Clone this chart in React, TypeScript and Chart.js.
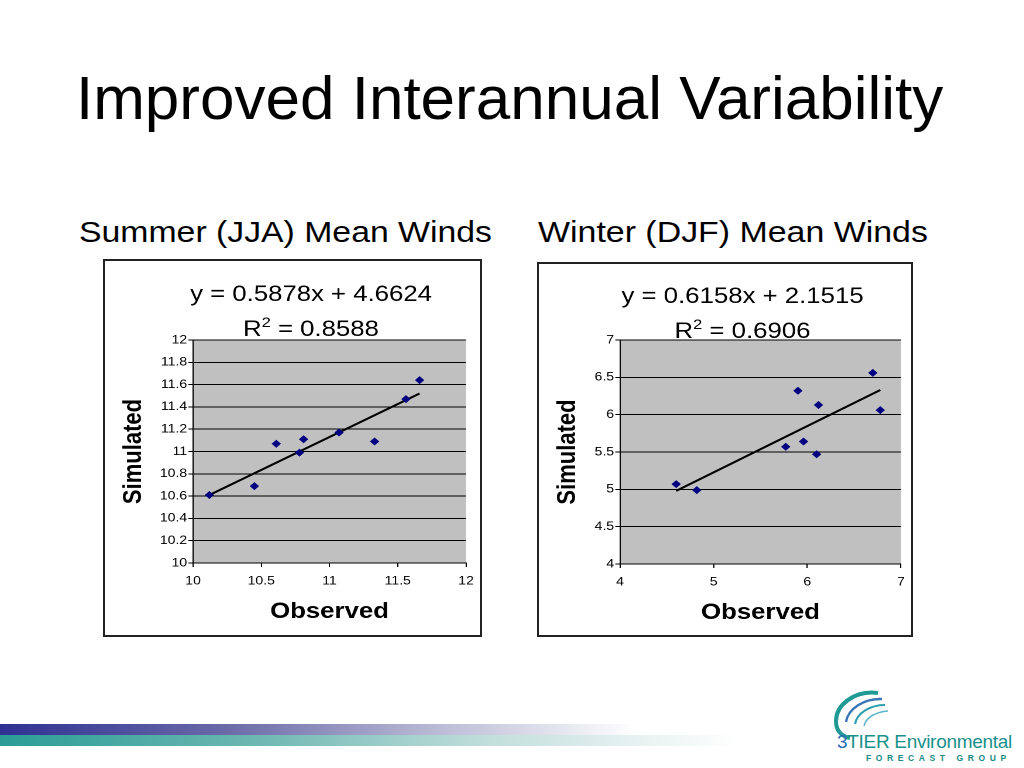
import React, { useEffect, useRef } from "react";
import { Chart, registerables } from "chart.js";

Chart.register(...registerables);

// ---------- data ----------
const summerObserved = [10.12, 10.45, 10.61, 10.78, 10.81, 11.07, 11.33, 11.56, 11.66];
const summerSimulated = [10.61, 10.69, 11.07, 10.99, 11.11, 11.17, 11.09, 11.47, 11.64];
const summerTrendX = [10.12, 11.66];
const summerTrendY = [10.61, 11.52];
const summerXTicks = [10, 10.5, 11, 11.5, 12];
const summerYTicks = [10, 10.2, 10.4, 10.6, 10.8, 11, 11.2, 11.4, 11.6, 11.8, 12];
const summerEquation = "y = 0.5878x + 4.6624";
const summerR2 = "0.8588";

const winterObserved = [4.6, 4.82, 5.77, 5.9, 5.96, 6.1, 6.12, 6.7, 6.78];
const winterSimulated = [5.07, 4.99, 5.57, 6.32, 5.64, 5.47, 6.13, 6.56, 6.06];
const winterTrendX = [4.6, 6.78];
const winterTrendY = [4.98, 6.33];
const winterXTicks = [4, 5, 6, 7];
const winterYTicks = [4, 4.5, 5, 5.5, 6, 6.5, 7];
const winterEquation = "y = 0.6158x + 2.1515";
const winterR2 = "0.6906";

const pageTitle = "Improved Interannual Variability";
const summerTitle = "Summer (JJA) Mean Winds";
const winterTitle = "Winter (DJF) Mean Winds";
const xAxisTitle = "Observed";
const yAxisTitle = "Simulated";

const FONT = '"Liberation Sans", Arial, Helvetica, sans-serif';
const STRETCH = 1.17;

type Geo = {
  left: number; top: number; width: number; height: number;
  areaL: number; areaT: number; areaR: number; areaB: number;
  yTitleX: number; xTitleFromBottom: number;
  eqX: number; eqY: number; r2Y: number;
};

function ScatterPanel(props: {
  geo: Geo; xs: number[]; ys: number[]; tx: number[]; ty: number[];
  xTicks: number[]; yTicks: number[]; eq: string; r2: string;
}) {
  const { geo, xs, ys, tx, ty, xTicks, yTicks, eq, r2 } = props;
  const ref = useRef<HTMLCanvasElement | null>(null);
  const w = Math.round(geo.width / STRETCH);
  const S = geo.width / w;

  useEffect(() => {
    if (!ref.current) return;
    const bg = {
      id: "plotBg",
      beforeDraw(chart: any) {
        const { ctx, chartArea } = chart;
        ctx.save();
        ctx.fillStyle = "#c0c0c0";
        ctx.fillRect(chartArea.left, chartArea.top, chartArea.right - chartArea.left, chartArea.bottom - chartArea.top);
        ctx.restore();
      },
    };
    const eqPlugin = {
      id: "eqText",
      afterDraw(chart: any) {
        const ctx = chart.ctx as CanvasRenderingContext2D;
        const cx = (geo.eqX - geo.left) / S;
        ctx.save();
        ctx.fillStyle = "#000";
        ctx.textBaseline = "alphabetic";
        ctx.font = `22px ${FONT}`;
        ctx.textAlign = "center";
        ctx.fillText(eq, cx, geo.eqY - geo.top);
        // R^2 line
        ctx.textAlign = "left";
        const p1 = "R";
        const p3 = " = " + r2;
        ctx.font = `22px ${FONT}`;
        const w1 = ctx.measureText(p1).width;
        const w3 = ctx.measureText(p3).width;
        ctx.font = `14px ${FONT}`;
        const w2 = ctx.measureText("2").width;
        const total = w1 + w2 + w3;
        let x = cx - total / 2;
        const by = geo.r2Y - geo.top;
        ctx.font = `22px ${FONT}`;
        ctx.fillText(p1, x, by);
        x += w1;
        ctx.font = `14px ${FONT}`;
        ctx.fillText("2", x, by - 9);
        x += w2;
        ctx.font = `22px ${FONT}`;
        ctx.fillText(p3, x, by);
        ctx.restore();
      },
    };
    const yW = geo.areaL / S;
    const xH = geo.areaB;
    const chart = new Chart(ref.current, {
      type: "scatter",
      data: {
        datasets: [
          {
            data: xs.map((x, i) => ({ x, y: ys[i] })),
            pointStyle: "rectRot",
            pointRadius: 4,
            pointBackgroundColor: "#000080",
            pointBorderColor: "#000080",
            pointBorderWidth: 0,
            order: 0,
          } as any,
          {
            data: tx.map((x, i) => ({ x, y: ty[i] })),
            showLine: true,
            borderColor: "#000",
            borderWidth: 2,
            pointRadius: 0,
            order: 1,
          } as any,
        ],
      },
      options: {
        animation: false,
        responsive: false,
        devicePixelRatio: 2,
        layout: { padding: { left: 0, top: geo.areaT, right: geo.areaR / S, bottom: 0 } },
        plugins: { legend: { display: false }, tooltip: { enabled: false } },
        scales: {
          x: {
            type: "linear",
            min: xTicks[0],
            max: xTicks[xTicks.length - 1],
            afterBuildTicks: (s: any) => { s.ticks = xTicks.map((v) => ({ value: v })); },
            afterFit: (s: any) => { s.height = xH; },
            grid: { drawOnChartArea: false, drawTicks: true, tickLength: 4, color: "#000", lineWidth: 1 },
            border: { display: true, color: "#000", width: 1 },
            ticks: { color: "#000", padding: 7, font: { family: FONT, size: 12 }, callback: (v: any) => String(v), maxRotation: 0 },
            title: {
              display: true, text: xAxisTitle, color: "#000",
              font: { family: FONT, size: 22, weight: "bold" },
              padding: { top: 0, bottom: geo.xTitleFromBottom - 13.2 },
            },
          },
          y: {
            type: "linear",
            min: yTicks[0],
            max: yTicks[yTicks.length - 1],
            afterBuildTicks: (s: any) => { s.ticks = yTicks.map((v) => ({ value: v })); },
            afterFit: (s: any) => { s.width = yW; },
            grid: { drawOnChartArea: true, drawTicks: true, tickLength: 4, color: "#000", lineWidth: 1 },
            border: { display: true, color: "#000", width: 1 },
            ticks: { color: "#000", padding: 1, font: { family: FONT, size: 12 }, callback: (v: any) => String(v) },
            title: {
              display: true, text: yAxisTitle, color: "#000",
              font: { family: FONT, size: 22, weight: "bold" },
              padding: { top: (geo.yTitleX - geo.left) / S - 13.2, bottom: 0 },
            },
          },
        },
      } as any,
      plugins: [bg, eqPlugin],
    });
    return () => chart.destroy();
  }, []);

  return (
    <>
      <div
        style={{
          position: "absolute", left: geo.left, top: geo.top, width: w, height: geo.height,
          transform: `scaleX(${S})`, transformOrigin: "0 0",
        }}
      >
        <canvas ref={ref} width={w} height={geo.height} style={{ display: "block" }} />
      </div>
      <div
        style={{
          position: "absolute", left: geo.left, top: geo.top, width: geo.width, height: geo.height,
          border: "2px solid #222", boxSizing: "border-box", pointerEvents: "none",
        }}
      />
    </>
  );
}

const summerGeo: Geo = {
  left: 103, top: 259, width: 379, height: 378,
  areaL: 90, areaT: 81, areaR: 14, areaB: 74,
  yTitleX: 134, xTitleFromBottom: 25,
  eqX: 311, eqY: 301, r2Y: 336,
};
const winterGeo: Geo = {
  left: 537, top: 262, width: 376, height: 375,
  areaL: 83, areaT: 78, areaR: 11, areaB: 73,
  yTitleX: 568, xTitleFromBottom: 24,
  eqX: 742.5, eqY: 303, r2Y: 338,
};

function Logo() {
  return (
    <div style={{ position: "absolute", left: 828, top: 688, width: 196, height: 80 }}>
      <svg width="70" height="54" style={{ position: "absolute", left: 0, top: 0 }}>
        <path d="M50 5 C 28 2, 8 16, 8 33 C 8 42, 13 48, 22 50" stroke="#1f9a95" strokeWidth="4" fill="none" />
        <path d="M54 11 C 36 10, 20 21, 18 34" stroke="#3a77b8" strokeWidth="2.4" fill="none" />
        <path d="M57 17 C 42 17, 29 25, 27 36" stroke="#2b9fb0" strokeWidth="2" fill="none" />
        <path d="M60 23 C 48 24, 38 29, 36 38" stroke="#5fb6c9" strokeWidth="1.5" fill="none" />
      </svg>
      <div style={{
        position: "absolute", left: 9, top: 44, fontFamily: '"Liberation Sans Narrow", "Arial Narrow", ' + FONT,
        fontSize: 19, color: "#17918c", whiteSpace: "nowrap", lineHeight: "20px", letterSpacing: -0.3,
      }}>
        <span style={{ color: "#2a6db5" }}>3</span>TIER Environmental
      </div>
      <div style={{
        position: "absolute", left: 38, top: 65, fontFamily: FONT, fontSize: 8.5, fontWeight: "bold", color: "#168a86",
        whiteSpace: "nowrap", letterSpacing: 4.6, lineHeight: "10px",
      }}>
        FORECAST GROUP
      </div>
    </div>
  );
}

export default function App() {
  return (
    <div style={{ position: "fixed", left: 0, top: 0, width: 1024, height: 768, background: "#fff", overflow: "hidden" }}>
      <div style={{
        position: "absolute", left: 76, top: 67, fontFamily: FONT, fontSize: 62, lineHeight: "62px",
        color: "#000", whiteSpace: "nowrap",
      }}>{pageTitle}</div>
      <div style={{
        position: "absolute", left: 78.5, top: 216.5, fontFamily: FONT, fontSize: 30, lineHeight: "30px",
        color: "#000", whiteSpace: "nowrap", transform: "scaleX(1.126)", transformOrigin: "0 0",
      }}>{summerTitle}</div>
      <div style={{
        position: "absolute", left: 537.5, top: 216.5, fontFamily: FONT, fontSize: 30, lineHeight: "30px",
        color: "#000", whiteSpace: "nowrap", transform: "scaleX(1.13)", transformOrigin: "0 0",
      }}>{winterTitle}</div>
      <ScatterPanel geo={summerGeo} xs={summerObserved} ys={summerSimulated} tx={summerTrendX} ty={summerTrendY}
        xTicks={summerXTicks} yTicks={summerYTicks} eq={summerEquation} r2={summerR2} />
      <ScatterPanel geo={winterGeo} xs={winterObserved} ys={winterSimulated} tx={winterTrendX} ty={winterTrendY}
        xTicks={winterXTicks} yTicks={winterYTicks} eq={winterEquation} r2={winterR2} />
      <div style={{
        position: "absolute", left: 0, top: 724, width: 1024, height: 11,
        background: "linear-gradient(to right, #2e3192 0%, #6a6aa8 22%, #b8b8d4 42%, #ffffff 62%)",
      }} />
      <div style={{
        position: "absolute", left: 0, top: 735, width: 1024, height: 11,
        background: "linear-gradient(to right, #2a9d96 0%, #6db7b2 25%, #c2dfdc 48%, #ffffff 72%)",
      }} />
      <Logo />
    </div>
  );
}
